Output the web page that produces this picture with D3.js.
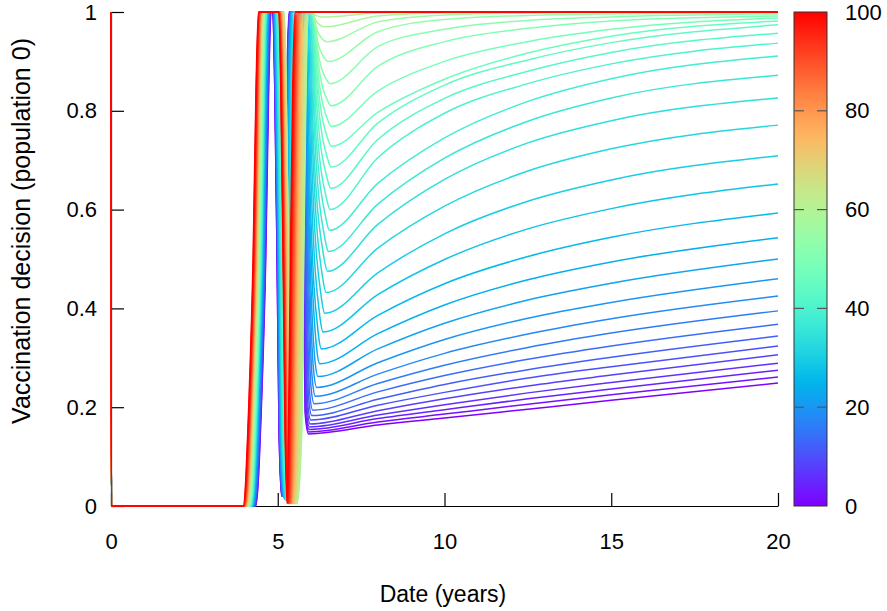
<!DOCTYPE html>
<html><head><meta charset="utf-8">
<script src="https://cdn.jsdelivr.net/npm/d3@7"></script>
<style>
body{margin:0;background:#fff}
svg{display:block}
text{font-family:"Liberation Sans",Arial,Helvetica,sans-serif;fill:#000}
</style>
</head><body>
<svg id="chart" width="887" height="611"></svg>
<script>
// ---------- data ----------
const params = [0,2,4,6,8,10,12,14,16,18,20,22,24,26,28,30,32,34,36,38,40,42,44,46,48,50,
  52,54,56,58,60,62,64,66,68,70,72,74,76,78,80,82,84,86,88,90,92,94,96,98,100];
// first rise (mid-point, years)
const rise1 = [4.64,4.63,4.62,4.62,4.61,4.60,4.59,4.59,4.58,4.57,4.56,4.56,4.55,4.54,4.53,4.53,4.52,4.51,4.50,4.50,
  4.49,4.48,4.47,4.47,4.46,4.45,4.44,4.43,4.43,4.42,4.41,4.40,4.40,4.39,4.38,4.37,4.37,4.36,4.35,4.34,
  4.34,4.33,4.32,4.31,4.31,4.30,4.29,4.28,4.28,4.27,4.26];
// first fall (mid-point, years)
const fall1 = [4.98,4.98,4.99,4.99,5.00,5.00,5.01,5.01,5.01,5.02,5.02,5.03,5.04,5.04,5.05,5.06,5.07,5.08,5.09,5.10,
  5.12,5.14,5.17,5.20,5.23,5.27,5.29,5.31,5.32,5.32,5.32,5.31,5.30,5.30,5.29,5.28,5.27,5.26,5.25,5.24,
  5.23,5.22,5.21,5.21,5.20,5.20,5.19,5.18,5.17,5.17,5.16];
// trough between the two pulses (years, value)
const troughT = [5.12,5.12,5.13,5.13,5.14,5.14,5.15,5.15,5.16,5.16,5.17,5.18,5.19,5.20,5.21,5.22,5.24,5.25,5.27,5.28,
  5.30,5.34,5.38,5.42,5.47,5.52,5.54,5.56,5.58,5.57,5.56,5.55,5.54,5.52,5.51,5.50,5.48,5.47,5.45,5.44,
  5.42,5.41,5.40,5.38,5.37,5.36,5.34,5.33,5.31,5.30,5.28];
const troughV = [0.02,0.02,0.02,0.02,0.02,0.02,0.02,0.02,0.02,0.02,0.02,0.018,0.016,0.015,0.014,0.013,0.012,0.011,0.010,0.010,
  0.010,0.005,0.005,0.005,0.005,0.005,0.005,0.005,0.005,0.005,0.005,0.005,0.005,0.005,0.005,0.005,0.005,0.005,0.005,0.005,
  0.005,0.005,0.005,0.005,0.005,0.005,0.005,0.005,0.005,0.005,0.005];
// second rise (mid-point, years)
const rise2 = [5.20,5.21,5.21,5.22,5.22,5.23,5.24,5.24,5.25,5.25,5.26,5.27,5.28,5.29,5.31,5.32,5.34,5.36,5.38,5.40,
  5.42,5.47,5.52,5.57,5.63,5.70,5.73,5.76,5.78,5.77,5.76,5.74,5.72,5.69,5.67,5.64,5.62,5.60,5.58,5.56,
  5.54,5.52,5.51,5.49,5.48,5.46,5.44,5.43,5.41,5.40,5.38];
// curves 0..60 dip after the second pulse
const descentMid = [5.76,5.77,5.78,5.79,5.80,5.81,5.83,5.84,5.86,5.88,5.90,5.92,5.94,5.96,5.99,6.02,6.05,6.07,6.10,6.12,
  6.14,6.16,6.18,6.19,6.20,6.20,6.19,6.17,6.15,6.12,6.08];
const minT = [5.92,5.93,5.94,5.95,5.97,5.99,6.02,6.05,6.09,6.13,6.17,6.21,6.26,6.31,6.36,6.41,6.45,6.49,6.52,6.55,
  6.57,6.59,6.60,6.61,6.61,6.60,6.57,6.52,6.47,6.42,6.36];
const minV = [0.146,0.150,0.155,0.160,0.166,0.174,0.183,0.194,0.207,0.222,0.240,0.262,0.288,0.318,0.352,0.390,0.432,0.475,0.515,0.558,
  0.600,0.643,0.686,0.728,0.768,0.810,0.855,0.900,0.940,0.970,0.990];
const at8 = [0.164,0.170,0.177,0.184,0.193,0.204,0.216,0.231,0.248,0.267,0.290,0.318,0.349,0.386,0.428,0.472,0.522,0.570,0.611,0.653,
  0.705,0.742,0.775,0.797,0.840,0.890,0.930,0.960,0.980,0.992,0.998];
const at10 = [0.178,0.186,0.195,0.205,0.217,0.230,0.246,0.264,0.285,0.309,0.337,0.370,0.407,0.450,0.499,0.551,0.607,0.661,0.704,0.745,
  0.795,0.825,0.852,0.864,0.900,0.940,0.965,0.985,0.994,0.998,1.000];
const at12 = [0.196,0.206,0.217,0.229,0.243,0.259,0.276,0.297,0.321,0.348,0.380,0.417,0.458,0.505,0.561,0.617,0.678,0.735,0.779,0.819,
  0.855,0.880,0.903,0.917,0.940,0.967,0.983,0.993,0.998,0.999,1.000];
const at15 = [0.214,0.225,0.237,0.250,0.265,0.282,0.301,0.324,0.350,0.379,0.412,0.451,0.494,0.544,0.602,0.660,0.723,0.780,0.826,0.865,
  0.895,0.918,0.938,0.951,0.965,0.982,0.990,0.996,0.999,1.000,1.000];
const at20 = [0.249,0.261,0.275,0.289,0.306,0.324,0.344,0.368,0.395,0.425,0.460,0.500,0.543,0.593,0.652,0.709,0.771,0.826,0.872,0.911,
  0.937,0.957,0.974,0.982,0.988,0.992,0.996,0.998,0.999,1.000,1.000];
const xTicks = [0,5,10,15,20];
const yTicks = [0,0.2,0.4,0.6,0.8,1];
const cTicks = [0,20,40,60,80,100];
const xTitle = "Date (years)";
const yTitle = "Vaccination decision (population 0)";

// ---------- layout ----------
const svg = d3.select("#chart");
const L = 111, R = 778, T = 12, B = 506;
const x = d3.scaleLinear().domain([0,20]).range([L,R]);
const y = d3.scaleLinear().domain([0,1]).range([B,T]);
const c = d3.scaleLinear().domain([0,100]).range([B,T]);
function rainbow(v){
  const r = Math.min(1,Math.abs(2*v-0.5)), g = Math.sin(Math.PI*v), b = Math.cos(Math.PI*v/2);
  return d3.rgb(r*255,g*255,Math.max(0,b)*255).formatHex();
}
const FS = 22, TFS = 23, YFS = 25;

// axes
const gx = svg.append("g").attr("transform",`translate(0,${B})`)
  .call(d3.axisBottom(x).tickValues(xTicks).tickSize(-13).tickSizeOuter(0).tickPadding(27).tickFormat(d=>d));
const gy = svg.append("g").attr("transform",`translate(${L},0)`)
  .call(d3.axisLeft(y).tickValues(yTicks).tickSize(-13).tickSizeOuter(0).tickPadding(14).tickFormat(d=>d));
[gx,gy].forEach(g=>{
  g.selectAll("text").attr("font-size",FS).attr("font-family",null).style("fill","#000");
  g.select(".domain").attr("stroke","#000").attr("stroke-width",1.2);
  g.selectAll(".tick line").attr("stroke","#000").attr("stroke-width",1.2);
});

// curves
function curvePoints(i){
  const a = [[0,1],[0.01,0],
    [rise1[i]-0.30,0],[rise1[i]-0.12,0.22],[rise1[i],0.5],[rise1[i]+0.09,0.85],[rise1[i]+0.16,1],
    [fall1[i]-0.13,1],[fall1[i]-0.07,0.85],[fall1[i],0.5],[fall1[i]+0.06,0.15],
    [troughT[i],troughV[i]],
    [rise2[i]-0.06,0.15],[rise2[i],0.5],[rise2[i]+0.07,0.85],[rise2[i]+0.14,1]];
  if (i < minV.length){
    const m = minV[i], d = descentMid[i];
    a.push([d-0.14,1],[d-0.07,1-(1-m)*0.15],[d,(1+m)/2],[minT[i]-0.1,m+(1-m)*0.05],[minT[i],m],
      [8,at8[i]],[10,at10[i]],[12.5,at12[i]],[15,at15[i]],[20,at20[i]]);
  } else {
    a.push([20,1]);
  }
  return a;
}
const line = d3.line().x(d=>x(d[0])).y(d=>y(d[1])).curve(d3.curveMonotoneX);
const gc = svg.append("g").attr("fill","none").attr("stroke-width",1.5).attr("stroke-linejoin","round");
params.forEach((p,i)=>{
  gc.append("path").attr("d",line(curvePoints(i))).attr("stroke",rainbow(p/100));
});

// colour bar
const defs = svg.append("defs");
const grad = defs.append("linearGradient").attr("id","cb").attr("x1",0).attr("y1",1).attr("x2",0).attr("y2",0);
params.forEach(v=>grad.append("stop").attr("offset",v/100).attr("stop-color",rainbow(v/100)));
const CB0 = 794, CB1 = 827;
svg.append("rect").attr("x",CB0).attr("y",T).attr("width",CB1-CB0).attr("height",B-T)
  .attr("fill","url(#cb)").attr("stroke","#333").attr("stroke-width",1);
cTicks.filter(v=>v>0&&v<100).forEach(v=>{
  svg.append("line").attr("x1",CB0).attr("x2",CB0+10).attr("y1",c(v)).attr("y2",c(v)).attr("stroke","#555").attr("stroke-width",1.2);
  svg.append("line").attr("x1",CB1-10).attr("x2",CB1).attr("y1",c(v)).attr("y2",c(v)).attr("stroke","#555").attr("stroke-width",1.2);
});
const gcb = svg.append("g").attr("transform",`translate(${CB1},0)`)
  .call(d3.axisRight(c).tickValues(cTicks).tickSize(0).tickPadding(18).tickFormat(d=>d));
gcb.select(".domain").remove();
gcb.selectAll("text").attr("font-size",FS).attr("font-family",null).style("fill","#000");

// titles
svg.append("text").attr("x",443).attr("y",602).attr("text-anchor","middle").attr("font-size",TFS).text(xTitle);
svg.append("text").attr("transform","translate(30,231) rotate(-90)").attr("text-anchor","middle").attr("font-size",YFS).text(yTitle);
</script>
</body></html>
